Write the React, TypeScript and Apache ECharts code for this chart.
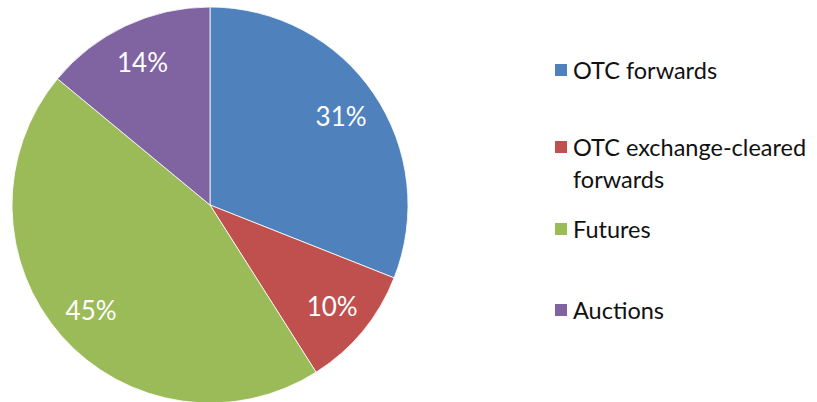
import React, { useEffect, useRef } from "react";
import * as echarts from "echarts";

const categories = ["OTC forwards", "OTC exchange-cleared forwards", "Futures", "Auctions"];
const legendLabels = ["OTC forwards", "OTC exchange-cleared\nforwards", "Futures", "Auctions"];
const shares = [31, 10, 45, 14];
const colors = ["#4F81BD", "#C0504D", "#9BBB59", "#8064A2"];
const legendTops = [49, 126, 208, 289];

export default function App() {
  const ref = useRef<HTMLDivElement>(null);
  useEffect(() => {
    if (!ref.current) return;
    const chart = echarts.init(ref.current, undefined, { renderer: "svg" });
    const data = categories.map((name, i) => ({ name, value: shares[i], itemStyle: { color: colors[i] } }));
    const legendTextStyle = { fontFamily: "Lato", fontSize: 23.5, color: "#111", lineHeight: 32 };
    chart.setOption({
      animation: false,
      color: colors,
      legend: categories.map((name, i) => ({
        data: [name],
        orient: "vertical",
        left: 548,
        top: legendTops[i],
        padding: 5,
        icon: i === 1 ? "path://M0,0h14v14h-14zM0,45.99h0.01v0.01h-0.01z" : "rect",
        itemWidth: 14,
        itemHeight: i === 1 ? 46 : 14,
        selectedMode: false,
        formatter: () => legendLabels[i],
        textStyle: legendTextStyle,
      })),
      series: [
        {
          type: "pie",
          center: [210, 205],
          radius: [0, 198],
          startAngle: 90,
          clockwise: true,
          silent: true,
          label: { show: false },
          labelLine: { show: false },
          itemStyle: { borderColor: "#ffffff", borderWidth: 0.8 },
          data,
        },
        {
          type: "pie",
          center: [210, 205],
          radius: [113, 198],
          startAngle: 90,
          clockwise: true,
          silent: true,
          itemStyle: { color: "transparent", borderWidth: 0 },
          label: {
            show: true,
            position: "inside",
            formatter: (p: any) => p.value + "%",
            color: "#ffffff",
            fontFamily: "Lato",
            fontSize: 26,
          },
          labelLine: { show: false },
          data: categories.map((name, i) => ({ name, value: shares[i] })),
        },
      ],
    });
    return () => chart.dispose();
  }, []);
  return <div ref={ref} style={{ position: "fixed", left: 0, top: 0, width: 817, height: 402, background: "#fff" }} />;
}
